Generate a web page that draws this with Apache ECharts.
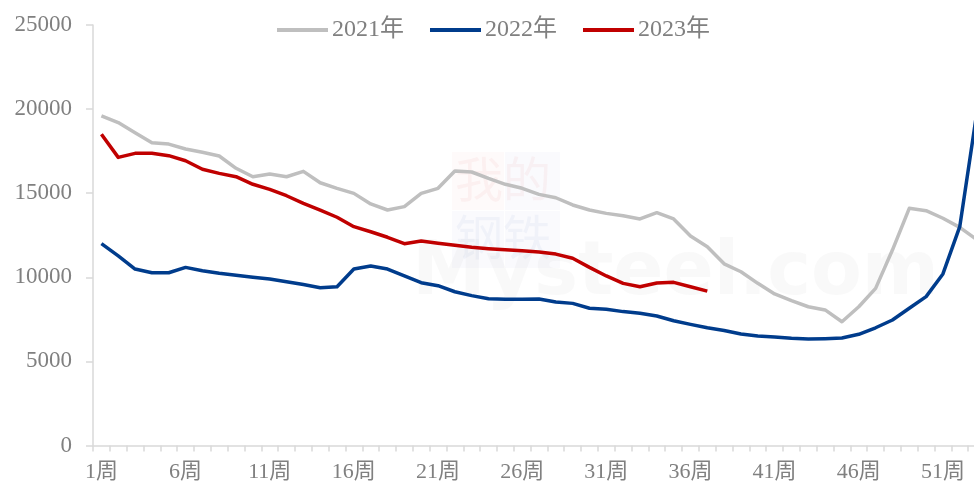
<!DOCTYPE html>
<html>
<head>
<meta charset="utf-8">
<script src="https://cdn.jsdelivr.net/npm/echarts@6/dist/echarts.min.js"></script>
<style>
html,body{margin:0;padding:0;background:#fff;}
#chart{width:974px;height:486px;}
</style>
</head>
<body>
<div id="chart"></div>
<script>
var weeks = [];
for (var i = 1; i <= 53; i++) { weeks.push(i + '周'); }

var seriesNames = ['2021年', '2022年', '2023年'];

var data2021 = [19600, 19200, 18600, 18000, 17920, 17630, 17430, 17210, 16480, 15980,
  16140, 15980, 16300, 15620, 15290, 14990, 14360, 14000, 14200, 14990,
  15290, 16320, 16260, 15880, 15530, 15290, 14930, 14730, 14300, 14000,
  13800, 13660, 13470, 13840, 13470, 12450, 11820, 10800, 10330, 9640,
  9010, 8610, 8250, 8060, 7360, 8250, 9340, 11620, 14100, 13960,
  13510, 12970, 12250];

var data2022 = [12000, 11270, 10490, 10270, 10270, 10590, 10390, 10240, 10120, 10000,
  9900, 9740, 9570, 9380, 9440, 10490, 10670, 10490, 10080, 9680,
  9500, 9140, 8910, 8730, 8690, 8690, 8710, 8530, 8450, 8160,
  8100, 7960, 7860, 7700, 7420, 7200, 7000, 6840, 6630, 6510,
  6450, 6370, 6330, 6350, 6390, 6610, 7000, 7460, 8160, 8850,
  10200, 13010, 19700];

var data2023 = [18500, 17130, 17370, 17370, 17230, 16930, 16420, 16180, 15980, 15530,
  15230, 14850, 14400, 14000, 13570, 13010, 12710, 12380, 12000, 12160,
  12020, 11900, 11780, 11700, 11640, 11580, 11500, 11380, 11130, 10590,
  10080, 9640, 9440, 9660, 9700, 9440, 9180];

var yTicks = [0, 5000, 10000, 15000, 20000, 25000];

var colors = ['#bfbfbf', '#003c8c', '#c00000'];
var serif = "'Liberation Serif', 'Times New Roman', 'Noto Sans CJK SC', serif";

var chart = echarts.init(document.getElementById('chart'));
chart.setOption({
  animation: false,
  backgroundColor: '#ffffff',
  color: colors,
  graphic: [
    { type: 'rect', left: 452, top: 152, shape: { width: 52, height: 58 }, style: { fill: 'rgba(240,120,120,0.04)' }, silent: true },
    { type: 'rect', left: 505, top: 152, shape: { width: 55, height: 58 }, style: { fill: 'rgba(120,140,200,0.04)' }, silent: true },
    { type: 'rect', left: 452, top: 211, shape: { width: 52, height: 57 }, style: { fill: 'rgba(120,140,200,0.04)' }, silent: true },
    { type: 'rect', left: 505, top: 211, shape: { width: 55, height: 57 }, style: { fill: 'rgba(120,140,200,0.04)' }, silent: true },
    { type: 'text', left: 455, top: 155, style: { text: '我的', fill: 'rgba(230,120,120,0.07)', font: '48px "Noto Sans CJK SC"' }, silent: true },
    { type: 'text', left: 455, top: 213, style: { text: '钢铁', fill: 'rgba(120,140,200,0.07)', font: '48px "Noto Sans CJK SC"' }, silent: true },
    { type: 'text', left: 412, top: 238, style: { text: 'Mysteel.com', fill: 'rgba(180,180,180,0.08)', font: 'bold 74px "DejaVu Sans"' }, silent: true }
  ],
  legend: {
    data: seriesNames,
    left: 272,
    top: 13,
    icon: 'rect',
    itemWidth: 51,
    itemHeight: 4,
    itemGap: 26,
    textStyle: { fontFamily: serif, fontSize: 24, color: '#808080', padding: [0, 0, 0, -1] }
  },
  grid: { left: 93, top: 25, right: -11, bottom: 40.5, containLabel: false, outerBoundsMode: 'none' },
  xAxis: {
    type: 'category',
    data: weeks,
    boundaryGap: true,
    axisLine: { show: true, lineStyle: { color: '#d9d9d9', width: 1.5 } },
    axisTick: { show: true, interval: 0, length: 6, lineStyle: { color: '#d9d9d9', width: 1.5 } },
    axisLabel: { interval: 4, margin: 16, fontFamily: serif, fontSize: 22, color: '#808080' },
    splitLine: { show: false }
  },
  yAxis: {
    type: 'value',
    min: yTicks[0],
    max: yTicks[yTicks.length - 1],
    interval: 5000,
    axisLine: { show: true, lineStyle: { color: '#d9d9d9', width: 1.5 } },
    axisTick: { show: true, length: 7, lineStyle: { color: '#d9d9d9', width: 1.5 } },
    axisLabel: { margin: 21, fontFamily: serif, fontSize: 23, color: '#808080', formatter: function (v) { return String(v); } },
    splitLine: { show: false }
  },
  series: [
    { name: seriesNames[0], type: 'line', data: data2021, showSymbol: false, symbol: 'none', lineStyle: { width: 3.5, color: colors[0], join: 'round' }, z: 2 },
    { name: seriesNames[1], type: 'line', data: data2022, showSymbol: false, symbol: 'none', lineStyle: { width: 3.5, color: colors[1], join: 'round' }, z: 3 },
    { name: seriesNames[2], type: 'line', data: data2023, showSymbol: false, symbol: 'none', lineStyle: { width: 3.5, color: colors[2], join: 'round' }, z: 4 }
  ]
});
</script>
</body>
</html>
